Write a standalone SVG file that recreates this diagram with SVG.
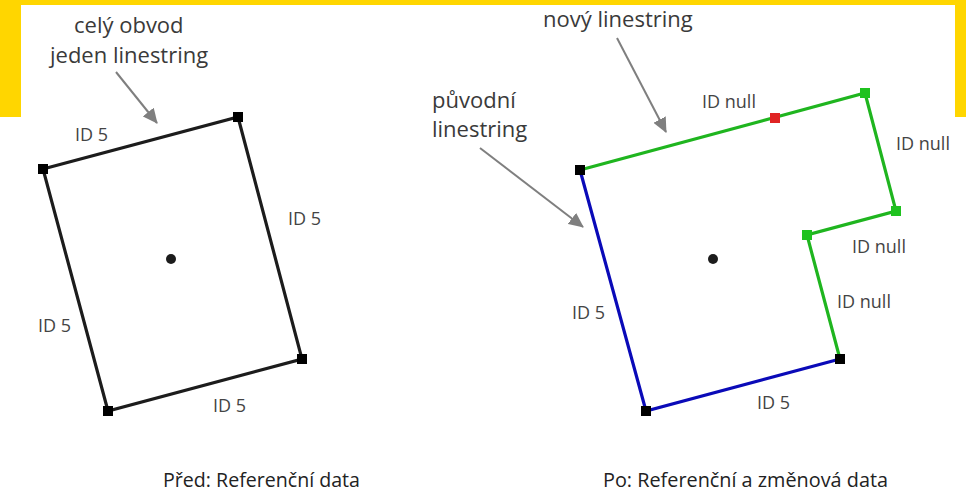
<svg xmlns="http://www.w3.org/2000/svg" width="966" height="494" viewBox="0 0 966 494">
<style>
.ann{font-family:"Open Sans","Noto Sans",sans-serif;font-size:22px;fill:#3a3a3a}
.lbl{font-family:"Open Sans","Noto Sans",sans-serif;font-size:18px;fill:#444}
.cap{font-family:"Open Sans","Noto Sans",sans-serif;font-size:19.5px;fill:#222}
.edge{fill:none;stroke-width:3.2;stroke-linecap:round}
.k{stroke:#1c1c1c}
.g{stroke:#1fb51f}
.b{stroke:#0a0ab8}
.arrow{stroke:#7f7f7f;stroke-width:2;fill:none}
.vk{fill:#000}
.vg{fill:#1fc21f}
.vr{fill:#e02424}
</style>
<defs>
<marker id="ah" markerUnits="userSpaceOnUse" markerWidth="16" markerHeight="14" refX="14" refY="7" orient="auto">
<path d="M0,0 L15,7 L0,14 Z" fill="#7f7f7f"/>
</marker>
</defs>
<rect x="0" y="0" width="966" height="494" fill="#fff"/>
<rect x="0" y="0" width="966" height="117" fill="#ffd600"/>
<rect x="21" y="5" width="934" height="489" fill="#fff"/>
<rect x="0" y="117" width="966" height="377" fill="#fff"/>

<g id="connectors">
<line class="arrow" x1="116" y1="72" x2="157" y2="123" marker-end="url(#ah)"/>
<line class="arrow" x1="617" y1="38" x2="666" y2="132" marker-end="url(#ah)"/>
<line class="arrow" x1="480" y1="148" x2="583" y2="227" marker-end="url(#ah)"/>
</g>

<g id="before">
<polygon class="edge k" points="43,169 238,117 302,359 108,411"/>
<rect class="vk" x="38" y="164" width="10" height="10"/>
<rect class="vk" x="233" y="112" width="10" height="10"/>
<rect class="vk" x="297" y="354" width="10" height="10"/>
<rect class="vk" x="103" y="406" width="10" height="10"/>
<circle cx="171" cy="259" r="5" fill="#1c1c1c"/>
<text class="lbl" x="75" y="141">ID 5</text>
<text class="lbl" x="288" y="225">ID 5</text>
<text class="lbl" x="38" y="332">ID 5</text>
<text class="lbl" x="213" y="412">ID 5</text>
</g>

<g id="after">
<polyline class="edge g" points="580,170 865,93 896,211 807,235 840,359"/>
<polyline class="edge b" points="580,170 646,411 840,359"/>
<rect class="vk" x="575" y="165" width="10" height="10"/>
<rect class="vk" x="641" y="406" width="10" height="10"/>
<rect class="vk" x="835" y="354" width="10" height="10"/>
<rect class="vg" x="860" y="88" width="10" height="10"/>
<rect class="vg" x="891" y="206" width="10" height="10"/>
<rect class="vg" x="802" y="230" width="10" height="10"/>
<rect class="vr" x="770" y="113" width="10" height="10"/>
<circle cx="713" cy="259" r="5" fill="#1c1c1c"/>
<text class="lbl" x="702" y="108">ID null</text>
<text class="lbl" x="896" y="150">ID null</text>
<text class="lbl" x="852" y="253">ID null</text>
<text class="lbl" x="837" y="308">ID null</text>
<text class="lbl" x="572" y="319">ID 5</text>
<text class="lbl" x="757" y="409">ID 5</text>
</g>

<g id="annotations">
<text class="ann" x="74" y="33">celý obvod</text>
<text class="ann" x="50" y="63">jeden linestring</text>
<text class="ann" x="543" y="27">nový linestring</text>
<text class="ann" x="432" y="108">původní</text>
<text class="ann" x="432" y="137">linestring</text>
</g>

<g id="captions">
<text class="cap" x="163" y="487" textLength="197" lengthAdjust="spacingAndGlyphs">Před: Referenční data</text>
<text class="cap" x="603" y="487" textLength="285" lengthAdjust="spacingAndGlyphs">Po: Referenční a změnová data</text>
</g>
</svg>
